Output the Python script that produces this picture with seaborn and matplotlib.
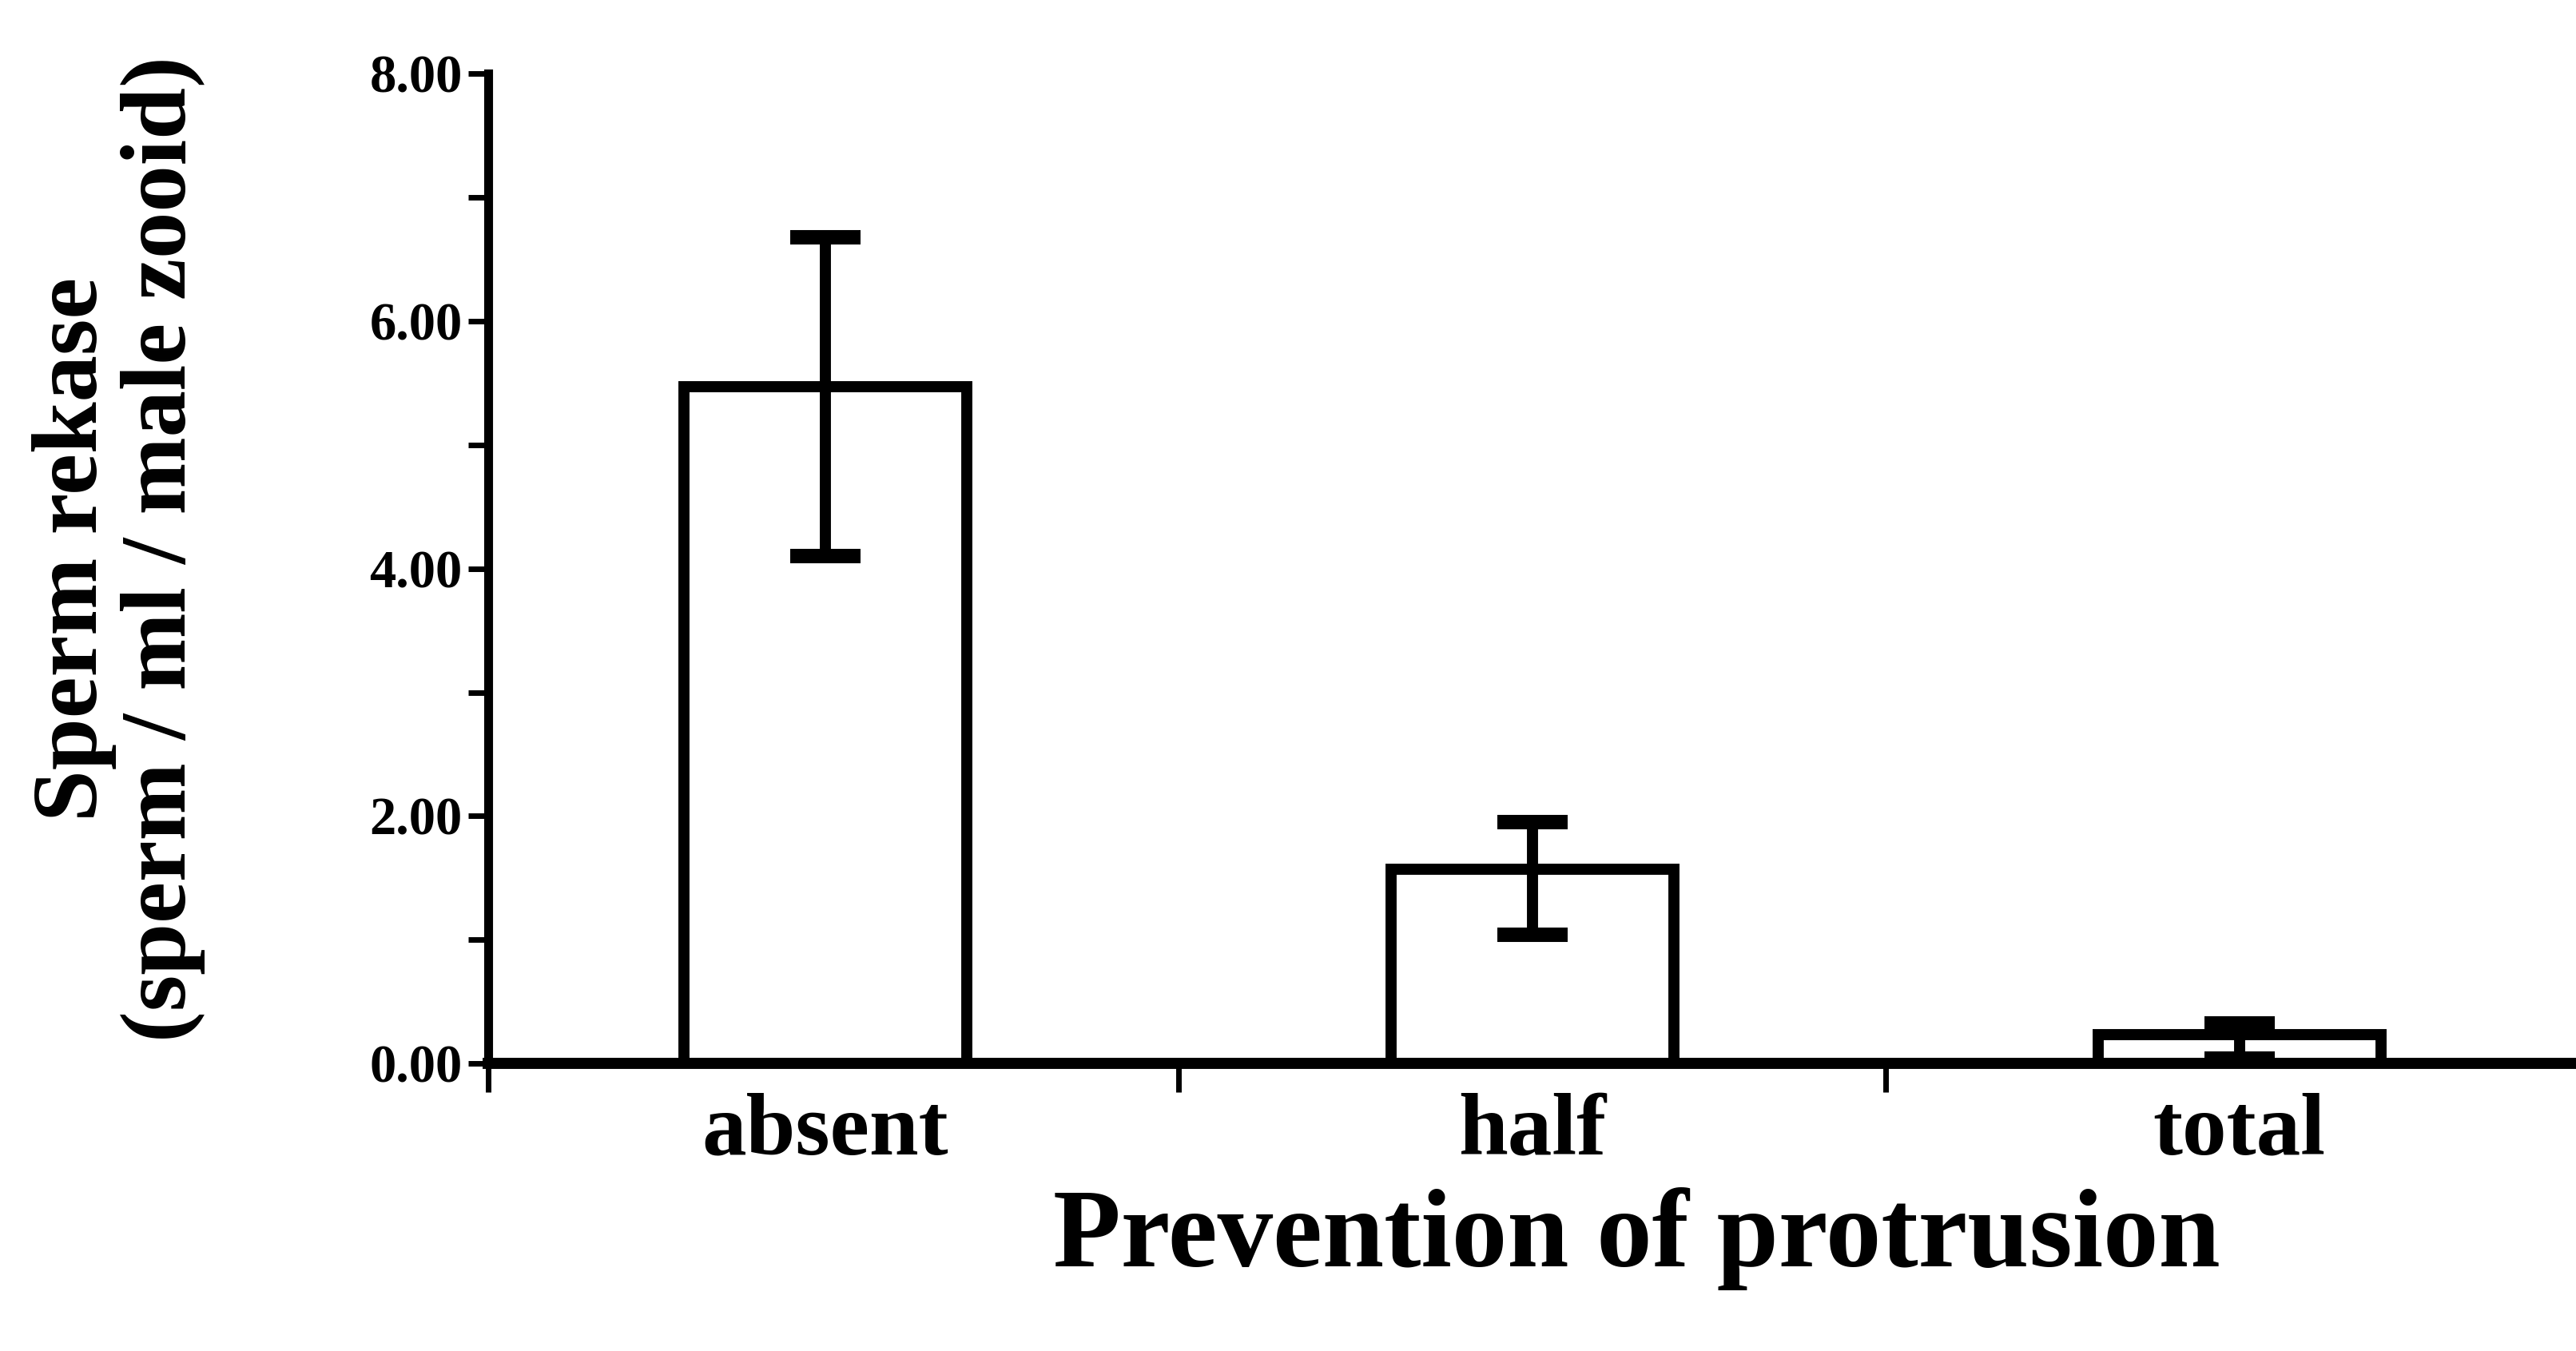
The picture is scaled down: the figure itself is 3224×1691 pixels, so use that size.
import matplotlib
matplotlib.use("Agg")
import matplotlib.pyplot as plt
import seaborn as sns
import pandas as pd
import numpy as np

# Sperm release by degree of prevented protrusion
categories = ["absent", "half", "total"]
mean_release = [5.47, 1.57, 0.23]
lower_bound = [4.10, 1.04, 0.04]
upper_bound = [6.68, 1.95, 0.32]
y_ticks = [0, 1, 2, 3, 4, 5, 6, 7, 8]
y_tick_labels = ["0.00", "", "2.00", "", "4.00", "", "6.00", "", "8.00"]

sns.set_style("ticks")
plt.rcParams["font.family"] = ["Liberation Serif", "DejaVu Serif"]
plt.rcParams["font.weight"] = "bold"
for key in ["text.color", "axes.labelcolor", "axes.edgecolor",
            "xtick.color", "ytick.color"]:
    plt.rcParams[key] = "black"

df = pd.DataFrame({"prevention": categories, "release": mean_release})

fig = plt.figure(figsize=(32.24, 16.91), dpi=100)
ax = fig.add_axes([0.1894, 0.2129, 0.8106, 0.7324])

sns.barplot(data=df, x="prevention", y="release", order=categories,
            color="white", edgecolor="black", linewidth=10, width=0.4,
            errorbar=None, ax=ax, zorder=2)

means = np.array(mean_release)
yerr = np.vstack([means - np.array(lower_bound), np.array(upper_bound) - means])
ax.errorbar(np.arange(len(categories)), means, yerr=yerr, fmt="none",
            ecolor="black", elinewidth=10, capsize=32, capthick=13, zorder=3)

ax.set_ylim(0, 8)
ax.set_xlim(-0.477, 2.476)
ax.set_yticks(y_ticks)
ax.set_yticklabels(y_tick_labels, fontsize=48, fontweight="bold")
ax.tick_params(axis="y", direction="out", length=18, width=5, pad=5)

ax.set_xticks(range(len(categories)))
ax.set_xticklabels(categories, fontsize=80, fontweight="bold")
ax.tick_params(axis="x", which="major", length=0, pad=26)
ax.set_xticks([-0.477, 0.5, 1.5], minor=True)
ax.tick_params(axis="x", which="minor", direction="out", length=26, width=5)

ax.set_xlabel("Prevention of protrusion", fontsize=100, fontweight="bold")
ax.xaxis.set_label_coords(0.55, -0.125)
ax.set_ylabel("Sperm rekase\n(sperm / ml / male zooid)", fontsize=84,
              fontweight="bold", linespacing=1.06)
ax.yaxis.set_label_coords(-0.1353, 0.52)

for side in ["top", "right"]:
    ax.spines[side].set_visible(False)
ax.spines["left"].set_linewidth(8)
ax.spines["bottom"].set_linewidth(10)
ax.spines["left"].set_zorder(4)
ax.spines["bottom"].set_zorder(4)

fig.savefig("out.png", dpi=100, facecolor="white")
